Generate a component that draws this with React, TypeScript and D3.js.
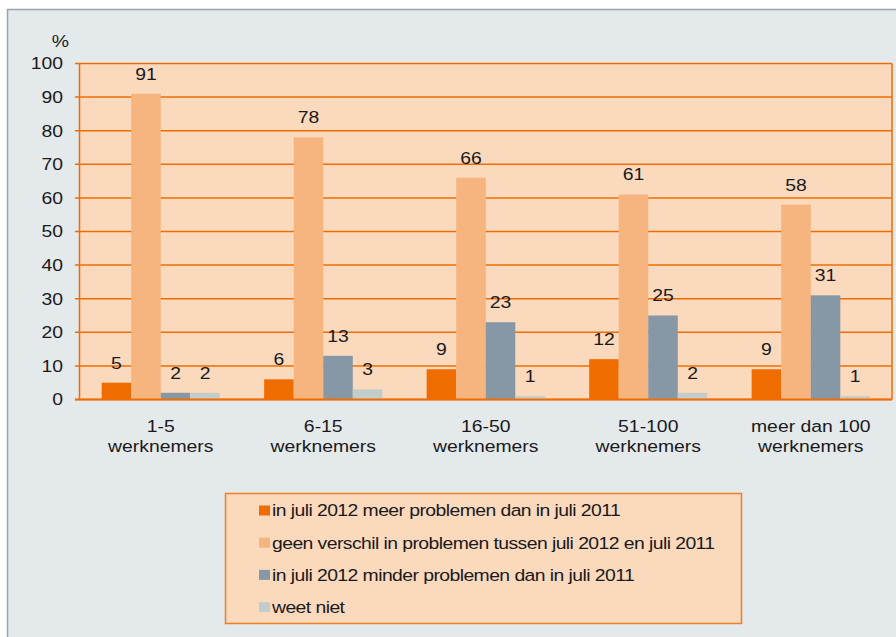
import React from "react";
import * as d3 from "d3";

const categories = [["1-5", "werknemers"], ["6-15", "werknemers"], ["16-50", "werknemers"], ["51-100", "werknemers"], ["meer dan 100", "werknemers"]];
const seriesNames = [
  "in juli 2012 meer problemen dan in juli 2011",
  "geen verschil in problemen tussen juli 2012 en juli 2011",
  "in juli 2012 minder problemen dan in juli 2011",
  "weet niet",
];
const meer = [5, 6, 9, 12, 9];
const geen = [91, 78, 66, 61, 58];
const minder = [2, 13, 23, 25, 31];
const weetNiet = [2, 3, 1, 2, 1];
const yTicks = [0, 10, 20, 30, 40, 50, 60, 70, 80, 90, 100];
const colors = ["#ee6c00", "#f6b47f", "#8698a6", "#c2cccb"];

const SX = 1.14;
function T({ x, y, anchor = "start", children, ls = 0 }: { x: number; y: number; anchor?: string; children: React.ReactNode; ls?: number }) {
  return (
    <text transform={`translate(${x},${y}) scale(${SX},1)`} dy="0.35em" textAnchor={anchor} fontSize={17} fill="#1a1a1a" letterSpacing={ls}>
      {children}
    </text>
  );
}

export default function App() {
  const series = [meer, geen, minder, weetNiet];
  const left = 79.5, right = 892, top = 63.5, bottom = 399.5;
  const y = d3.scaleLinear().domain([0, 100]).range([bottom, top]);
  const x0 = d3.scaleBand().domain(categories.map((c, i) => String(i))).range([left, right]).paddingInner(0).paddingOuter(0);
  const bw = x0.bandwidth() / 5.5;
  const x1 = d3.scaleBand().domain(["0", "1", "2", "3"]).range([0.75 * bw, 4.75 * bw]).padding(0);
  const font = "'Liberation Sans', Arial, sans-serif";
  return (
    <svg width={896} height={637} style={{ position: "absolute", left: 0, top: 0 }} fontFamily={font}>
      <rect x={0} y={0} width={896} height={637} fill="#ffffff" />
      <rect x={7.5} y={9.5} width={900} height={640} fill="#e4e9ec" stroke="#97a5af" strokeWidth={1.5} />
      <rect x={left} y={top} width={right - left} height={bottom - top} fill="#fbd9bd" />
      {yTicks.map((t) => (
        <g key={t}>
          <line x1={75} x2={right} y1={y(t)} y2={y(t)} stroke="#ef6d00" strokeWidth={1.5} />
          <T x={63} y={y(t)} anchor="end">{t}</T>
        </g>
      ))}
      <line x1={left} x2={left} y1={top} y2={bottom} stroke="#ef6d00" strokeWidth={1.5} />
      <line x1={right} x2={right} y1={top} y2={bottom} stroke="#ef6d00" strokeWidth={1.5} />
      <T x={69} y={41} anchor="end">%</T>
      {categories.map((c, i) => (
        <g key={i} transform={`translate(${x0(String(i))},0)`}>
          {series.map((s, j) => (
            <g key={j}>
              <rect x={x1(String(j))} y={y(s[i])} width={x1.bandwidth()} height={bottom - y(s[i])} fill={colors[j]} />
              <T x={(x1(String(j)) as number) + x1.bandwidth() / 2} y={y(s[i]) - 20} anchor="middle">{s[i]}</T>
            </g>
          ))}
          <T x={x0.bandwidth() / 2} y={426} anchor="middle">{c[0]}</T>
          <T x={x0.bandwidth() / 2} y={446} anchor="middle">{c[1]}</T>
        </g>
      ))}
      <line x1={75} x2={right} y1={bottom} y2={bottom} stroke="#ef6d00" strokeWidth={2} />
      <rect x={225.5} y={493.5} width={516} height={130} fill="#fbd9bd" stroke="#ef7f25" strokeWidth={1.5} />
      {seriesNames.map((n, j) => (
        <g key={j} transform={`translate(259,${510.5 + j * 32.2})`}>
          <rect x={0} y={-5} width={11} height={10} fill={colors[j]} />
          <T x={13} y={0} ls={-0.5}>{n}</T>
        </g>
      ))}
    </svg>
  );
}
